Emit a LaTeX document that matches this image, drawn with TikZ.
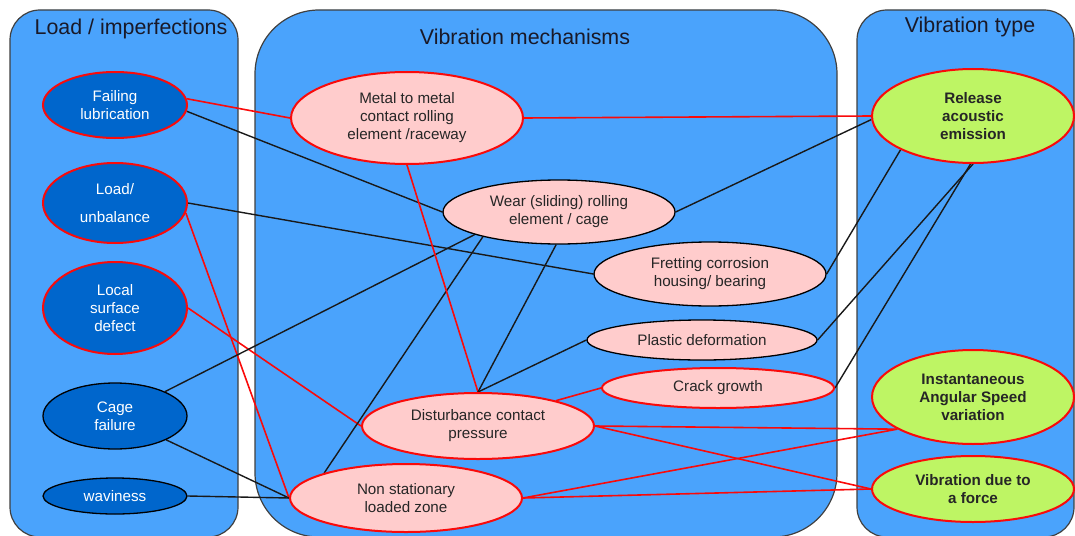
\documentclass[tikz,border=0pt]{standalone}
\usepackage{fontspec}
\setmainfont{Liberation Sans}
\usetikzlibrary{shapes.geometric}
\definecolor{panelblue}{RGB}{74,163,252}
\definecolor{darkblue}{RGB}{0,102,204}
\definecolor{pinkfill}{RGB}{255,204,204}
\definecolor{greenfill}{RGB}{190,245,100}
\definecolor{edgered}{RGB}{250,10,10}
\definecolor{titlecol}{RGB}{25,25,40}
\pgfdeclarelayer{panels}
\pgfdeclarelayer{edges}
\pgfsetlayers{panels,edges,main}
\tikzset{
  panel/.style={draw=black!75, line width=0.6pt, fill=panelblue},
  paneltitle/.style={font=\fontsize{10.7}{12}\selectfont, text=titlecol},
  ell/.style={ellipse, inner sep=0pt, align=center, font=\fontsize{7.6}{9}\selectfont},
  redrim/.style={draw=edgered, line width=1pt},
  blackrim/.style={draw=black, line width=0.65pt},
  cause/.style={ell, fill=darkblue, text=white},
  mech/.style={ell, fill=pinkfill, text=black!85},
  vtype/.style={ell, fill=greenfill, text=black!85, font=\fontsize{7.6}{9}\selectfont\bfseries, redrim},
  redlink/.style={draw=edgered, line width=0.8pt},
  blacklink/.style={draw=black!90, line width=0.7pt},
}
\begin{document}
\begin{tikzpicture}[x=0.5pt, y=-0.5pt]
\useasboundingbox (0,0) rectangle (1075,535);
\clip (0,0) rectangle (1075,535);

% panels
\begin{pgfonlayer}{panels}
\draw[panel, rounded corners=15pt] (10,10) rectangle (238,537);
\draw[panel, rounded corners=32pt] (255,10) rectangle (837,537);
\draw[panel, rounded corners=15pt] (857,10) rectangle (1074,537);
\end{pgfonlayer}

\node[paneltitle] (t1) at (131,29) {Load / imperfections};
\node[paneltitle] (t2) at (525,37) {Vibration mechanisms};
\node[paneltitle] (t3) at (970,27) {Vibration type};

% left: causes
\node[cause, redrim, minimum width=72pt, minimum height=33pt] (fl) at (115,105) {Failing\\lubrication};
\node[cause, redrim, minimum width=72pt, minimum height=40pt] (lu) at (115,203) {Load/\\[5pt]unbalance};
\node[cause, redrim, minimum width=72pt, minimum height=46pt] (lsd) at (115,308) {Local\\surface\\defect};
\node[cause, blackrim, minimum width=72pt, minimum height=33pt] (cf) at (115,416) {Cage\\failure};
\node[cause, blackrim, minimum width=72pt, minimum height=18pt] (wv) at (115,496) {waviness};

% middle: mechanisms
\node[mech, redrim, minimum width=116pt, minimum height=46pt] (mm) at (407,118) {Metal to metal\\contact rolling\\element /raceway};
\node[mech, blackrim, minimum width=116pt, minimum height=32pt] (wear) at (559,212) {Wear (sliding) rolling\\element / cage};
\node[mech, blackrim, minimum width=116pt, minimum height=32pt] (fr) at (710,274) {Fretting corrosion\\housing/ bearing};
\node[mech, blackrim, minimum width=115pt, minimum height=20pt] (pd) at (702,340) {Plastic deformation};
\node[mech, redrim, minimum width=116pt, minimum height=20pt] (cg) at (718,388) {Crack growth};
\node[mech, redrim, minimum width=116pt, minimum height=33pt] (dist) at (478,426) {Disturbance contact\\pressure};
\node[mech, redrim, minimum width=116pt, minimum height=34pt] (ns) at (406,498) {Non stationary\\loaded zone};

% right: vibration types
\node[vtype, minimum width=101pt, minimum height=47pt] (rel) at (973,116) {Release\\acoustic\\emission};
\node[vtype, minimum width=101pt, minimum height=47pt] (ias) at (973,397) {Instantaneous\\Angular Speed\\variation};
\node[vtype, minimum width=101pt, minimum height=33pt] (vdf) at (973,489) {Vibration due to\\a force};

% connectors
\begin{pgfonlayer}{edges}
\draw[redlink] (fl.5) -- (mm.west);
\draw[blacklink] (fl.-5) -- (wear.west);
\draw[blacklink] (lu.east) -- (fr.west);
\draw[redlink] (lu.-8) -- (ns.west);
\draw[redlink] (lsd.east) -- (dist.west);
\draw[blacklink] (cf.26) -- (wear.195);
\draw[blacklink] (cf.-25) -- (ns.west);
\draw[blacklink] (wv.east) -- (ns.west);
\draw[blacklink] (ns.163) -- (wear.198);
\draw[redlink] (mm.south) -- (dist.north);
\draw[blacklink] (wear.-95) -- (dist.north);
\draw[blacklink] (pd.west) -- (dist.north);
\draw[redlink] (cg.west) -- (dist.18);
\draw[redlink] (mm.east) -- (rel.west);
\draw[blacklink] (wear.east) -- (rel.182);
\draw[blacklink] (fr.east) -- (rel.205);
\draw[blacklink] (pd.east) -- (rel.-90);
\draw[blacklink] (cg.east) -- (rel.-93);
\draw[redlink] (dist.east) -- (ias.203);
\draw[redlink] (dist.east) -- (vdf.west);
\draw[redlink] (ns.east) -- (ias.203);
\draw[redlink] (ns.east) -- (vdf.west);
\end{pgfonlayer}
\end{tikzpicture}
\end{document}
